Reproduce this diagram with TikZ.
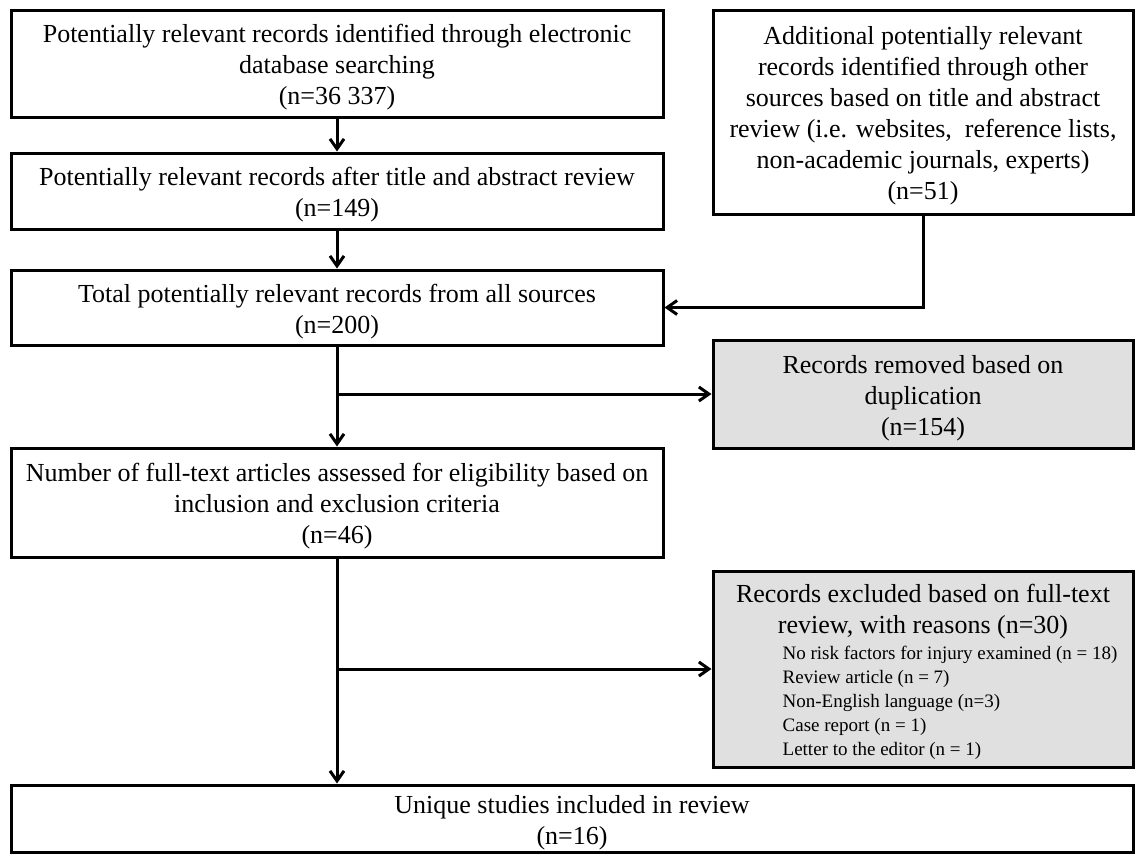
\documentclass[tikz,border=0pt]{standalone}
\usepackage{fontspec}
\setmainfont{Liberation Serif}
\usetikzlibrary{arrows.meta, shadows, positioning}
\definecolor{boxgray}{RGB}{224,224,224}
\newcommand{\lifttext}[1][13pt]{\rule{0pt}{#1}}

\begin{document}
\begin{tikzpicture}[align=center, node distance=18pt, font=\fontsize{13}{15.5}\selectfont, >={Straight Barb[length=5pt,width=7pt]}]
\tikzstyle{record}=[draw=black, line width=1.5pt, fill=white, inner sep=0pt, outer sep=0pt, minimum width=326pt, drop shadow={opacity=0.2, shadow xshift=1pt, shadow yshift=-1pt}]
\tikzstyle{side}=[record, minimum width=210pt, fill=boxgray]
\tikzstyle{flow}=[->, line width=1.5pt, shorten >=0.75pt]

\useasboundingbox (0,0) rectangle (568pt,-428.5pt);

% main column
\node[record, minimum height=53.5pt, anchor=north west] (search) at (5.5pt,-5pt) {\lifttext Potentially relevant records identified through electronic\\database searching\\(n=36 337)};
\node[record, minimum height=38pt] (screen) [below=18pt of search] {\lifttext Potentially relevant records after title and abstract review\\(n=149)};
\node[record, minimum height=37.5pt] (total) [below=20.5pt of screen] {\lifttext Total potentially relevant records from all sources\\(n=200)};
\node[record, minimum height=54.5pt] (fulltext) [below=51.5pt of total] {\lifttext Number of full-text articles assessed for eligibility based on\\inclusion and exclusion criteria\\(n=46)};
\node[record, minimum width=561pt, minimum height=33.5pt] (included) [below=114pt of fulltext.south west, anchor=north west] {\lifttext Unique studies included in review\\(n=16)};

% side column
\node[record, minimum width=210pt, minimum height=102pt] (other) [right=25pt of search.north east, anchor=north west] {\lifttext Additional potentially relevant\\records identified through other\\sources based on title and abstract\\review (i.e. websites,~ reference lists,\\non-academic journals, experts)\\(n=51)};
\node[side, minimum height=54pt] (dupes) [below=63pt of other] {\lifttext Records removed based on\\duplication\\(n=154)};
\node[side, minimum height=98pt] (excl) [below=61.5pt of dupes] {\lifttext[14pt]Records excluded based on full-text\\review, with reasons (n=30)\\[-2.5pt]\hspace*{27pt}{\fontsize{9.5}{12}\selectfont\begin{tabular}[t]{@{}l@{}}No risk factors for injury examined (n = 18)\\Review article (n = 7)\\Non-English language (n=3)\\Case report (n = 1)\\Letter to the editor (n = 1)\end{tabular}}};

\draw[flow] (search) -- (screen);
\draw[flow] (screen) -- (total);
\draw[flow] (other.south) |- (total.east);
\draw[flow] (total) -- (fulltext);
\draw[flow] (total.south |- dupes.west) -- (dupes.west);
\draw[flow] (fulltext.south) -- (fulltext.south |- included.north);
\draw[flow] (fulltext.south |- excl.west) -- (excl.west);
\end{tikzpicture}
\end{document}
